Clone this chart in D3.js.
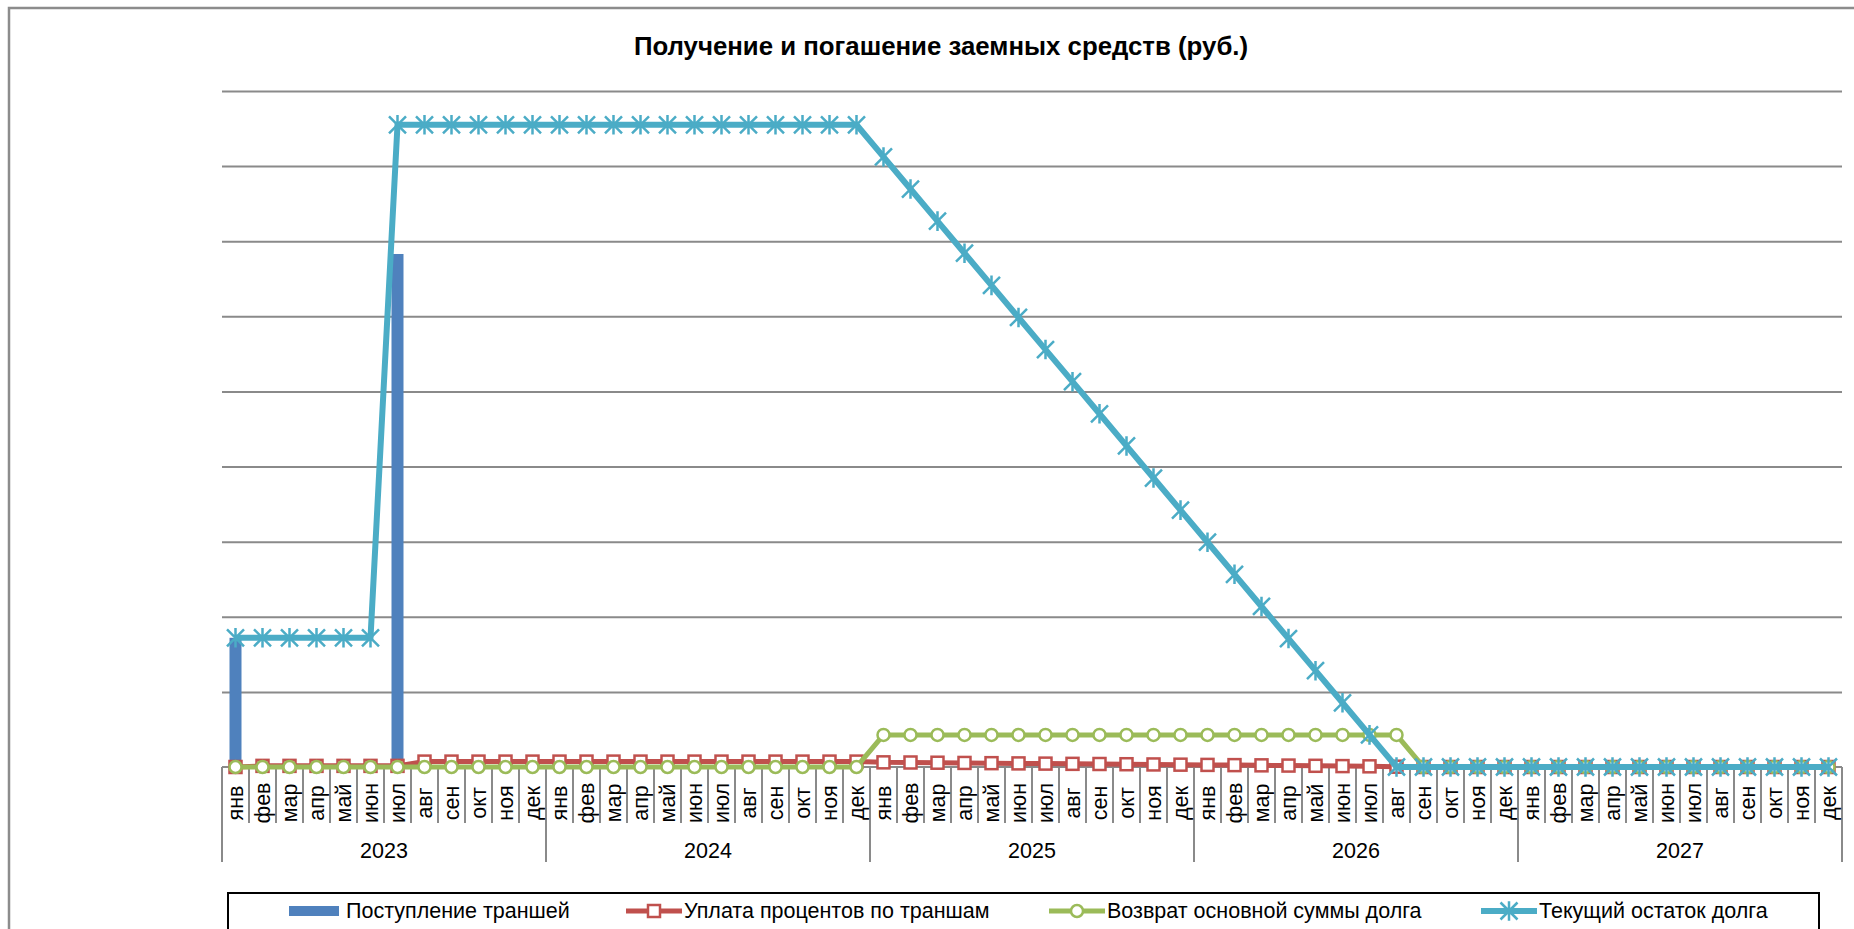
<!DOCTYPE html>
<html>
<head>
<meta charset="utf-8">
<script src="https://cdn.jsdelivr.net/npm/d3@7"></script>
<style>
    body { margin: 0; background: #fff; overflow: hidden; }
    svg text { font-family: "Liberation Sans", Arial, sans-serif; fill: #000; }
</style>
</head>
<body>
<svg id="chart" width="1854" height="929"></svg>
<script>
//DADOS (тыс. руб.)------------------------------------------------------------------------
var years = ["2023", "2024", "2025", "2026", "2027"];
var monthNames = ["янв", "фев", "мар", "апр", "май", "июн", "июл", "авг", "сен", "окт", "ноя", "дек"];

var seriesNames = ["Поступление траншей", "Уплата процентов по траншам", "Возврат основной суммы долга", "Текущий остаток долга"];

// поступление траншей
var tranches = [
    17200, 0, 0, 0, 0, 0, 68300, 0, 0, 0, 0, 0,
    0, 0, 0, 0, 0, 0, 0, 0, 0, 0, 0, 0,
    0, 0, 0, 0, 0, 0, 0, 0, 0, 0, 0, 0,
    0, 0, 0, 0, 0, 0, 0, 0, 0, 0, 0, 0,
    0, 0, 0, 0, 0, 0, 0, 0, 0, 0, 0, 0
];
// уплата процентов
var interest = [
    0, 150, 150, 150, 150, 150, 150, 720, 720, 720, 720, 720,
    720, 720, 720, 720, 720, 720, 720, 720, 720, 720, 720, 720,
    620, 600, 570, 540, 510, 480, 450, 420, 400, 370, 340, 310,
    280, 250, 220, 190, 160, 120, 90, 40, 0, 0, 0, 0,
    0, 0, 0, 0, 0, 0, 0, 0, 0, 0, 0, 0
];
// возврат основной суммы
var principal = [
    0, 0, 0, 0, 0, 0, 0, 0, 0, 0, 0, 0,
    0, 0, 0, 0, 0, 0, 0, 0, 0, 0, 0, 0,
    4275, 4275, 4275, 4275, 4275, 4275, 4275, 4275, 4275, 4275, 4275, 4275,
    4275, 4275, 4275, 4275, 4275, 4275, 4275, 4275, 0, 0, 0, 0,
    0, 0, 0, 0, 0, 0, 0, 0, 0, 0, 0, 0
];
// текущий остаток
var balance = [
    17200, 17200, 17200, 17200, 17200, 17200, 85500, 85500, 85500, 85500, 85500, 85500,
    85500, 85500, 85500, 85500, 85500, 85500, 85500, 85500, 85500, 85500, 85500, 85500,
    81225, 76950, 72675, 68400, 64125, 59850, 55575, 51300, 47025, 42750, 38475, 34200,
    29925, 25650, 21375, 17100, 12825, 8550, 4275, 0, 0, 0, 0, 0,
    0, 0, 0, 0, 0, 0, 0, 0, 0, 0, 0, 0
];
var yTicks = [0, 10000, 20000, 30000, 40000, 50000, 60000, 70000, 80000, 90000];

//CORES
var cBar = "#4F81BD", cRed = "#C0504D", cGreen = "#9BBB59", cCyan = "#4BACC6", cGrid = "#8a8a8a";

let svg = d3.select("#chart");
let n = tranches.length;
let plotLeft = 222, plotRight = 1842, plotTop = 91, plotBottom = 767;

let x = d3.scaleBand().domain(d3.range(n)).range([plotLeft, plotRight]);
let y = d3.scaleLinear().domain([0, 90000]).range([plotBottom, plotTop]);
let bw = x.bandwidth();
let cx = function (i) { return x(i) + bw / 2; };

//MOLDURA
svg.append("rect")
    .attr("x", 9).attr("y", 8)
    .attr("width", 1900).attr("height", 1000)
    .attr("fill", "none").attr("stroke", "#8c8c8c").attr("stroke-width", 2.5);

//TITULO
svg.append("text")
    .attr("x", 941).attr("y", 55)
    .attr("text-anchor", "middle")
    .attr("font-size", "25.8px").attr("font-weight", "bold")
    .text("Получение и погашение заемных средств (руб.)");

//GRELHA
let grid = svg.append("g")
    .attr("transform", "translate(" + plotLeft + ",0)")
    .call(d3.axisLeft(y).tickValues(yTicks.slice(1)).tickSize(-(plotRight - plotLeft)).tickFormat(""));
grid.select(".domain").remove();
grid.selectAll("line").attr("stroke", cGrid).attr("stroke-width", 2);

//EIXO X
svg.append("line")
    .attr("x1", plotLeft).attr("x2", plotRight).attr("y1", plotBottom).attr("y2", plotBottom)
    .attr("stroke", cGrid).attr("stroke-width", 2);

let ticks = svg.append("g");
d3.range(n + 1).forEach(function (i) {
    let xx = i < n ? x(i) : plotRight;
    let isYear = i % 12 == 0;
    ticks.append("line")
        .attr("x1", xx).attr("x2", xx)
        .attr("y1", plotBottom).attr("y2", isYear ? 862 : 823)
        .attr("stroke", cGrid).attr("stroke-width", 2);
});

let monthLabels = svg.append("g");
d3.range(n).forEach(function (i) {
    monthLabels.append("text")
        .attr("transform", "translate(" + cx(i) + ",803) rotate(-90)")
        .attr("text-anchor", "middle")
        .attr("dominant-baseline", "central")
        .attr("font-size", "21.5px")
        .text(monthNames[i % 12]);
});

years.forEach(function (yr, k) {
    svg.append("text")
        .attr("x", (x(k * 12) + (k * 12 + 12 < n ? x(k * 12 + 12) : plotRight)) / 2)
        .attr("y", 858)
        .attr("text-anchor", "middle")
        .attr("font-size", "21.5px")
        .text(yr);
});

//BARRAS
let barW = 12;
svg.append("g").selectAll("rect")
    .data(tranches)
    .join("rect")
    .attr("x", (d, i) => cx(i) - barW / 2)
    .attr("y", d => y(d))
    .attr("width", barW)
    .attr("height", d => plotBottom - y(d))
    .attr("fill", cBar);

//LINHAS
let line = d3.line().x((d, i) => cx(i)).y(d => y(d));

function starPath(s) {
    return "M" + (-s) + "," + (-s) + "L" + s + "," + s +
        "M" + (-s) + "," + s + "L" + s + "," + (-s) +
        "M0," + (-s * 1.15) + "L0," + (s * 1.15);
}

function drawMarker(g, type, px, py) {
    if (type == "square") {
        g.append("rect")
            .attr("x", px - 6).attr("y", py - 6)
            .attr("width", 12).attr("height", 12)
            .attr("fill", "#fff").attr("stroke", cRed).attr("stroke-width", 2.5);
    } else if (type == "circle") {
        g.append("circle")
            .attr("cx", px).attr("cy", py).attr("r", 6)
            .attr("fill", "#fff").attr("stroke", cGreen).attr("stroke-width", 2.5);
    } else {
        g.append("path")
            .attr("transform", "translate(" + px + "," + py + ")")
            .attr("d", starPath(8.5))
            .attr("fill", "none").attr("stroke", cCyan).attr("stroke-width", 2.5);
    }
}

let lineSeries = [
    { values: interest, color: cRed, marker: "square", width: 5 },
    { values: principal, color: cGreen, marker: "circle", width: 5 },
    { values: balance, color: cCyan, marker: "star", width: 6 }
];

lineSeries.forEach(function (s) {
    let g = svg.append("g");
    g.append("path")
        .attr("d", line(s.values))
        .attr("fill", "none")
        .attr("stroke", s.color)
        .attr("stroke-width", s.width)
        .attr("stroke-linejoin", "round");
    s.values.forEach(function (v, i) {
        drawMarker(g, s.marker, cx(i), y(v));
    });
});

//LEGENDA
svg.append("rect")
    .attr("x", 228).attr("y", 893)
    .attr("width", 1591).attr("height", 60)
    .attr("fill", "#fff").attr("stroke", "#000").attr("stroke-width", 2);

let legX = [289, 626, 1049, 1481];
let legY = 911;
seriesNames.forEach(function (name, k) {
    let g = svg.append("g");
    if (k == 0) {
        g.append("rect")
            .attr("x", legX[k]).attr("y", legY - 5)
            .attr("width", 50).attr("height", 10)
            .attr("fill", cBar);
    } else {
        let s = lineSeries[k - 1];
        g.append("line")
            .attr("x1", legX[k]).attr("x2", legX[k] + 56)
            .attr("y1", legY).attr("y2", legY)
            .attr("stroke", s.color).attr("stroke-width", s.width);
        drawMarker(g, s.marker, legX[k] + 28, legY);
    }
    g.append("text")
        .attr("x", legX[k] + (k == 0 ? 57 : 58))
        .attr("y", legY)
        .attr("dominant-baseline", "central")
        .attr("font-size", "21.5px")
        .text(name);
});
</script>
</body>
</html>
